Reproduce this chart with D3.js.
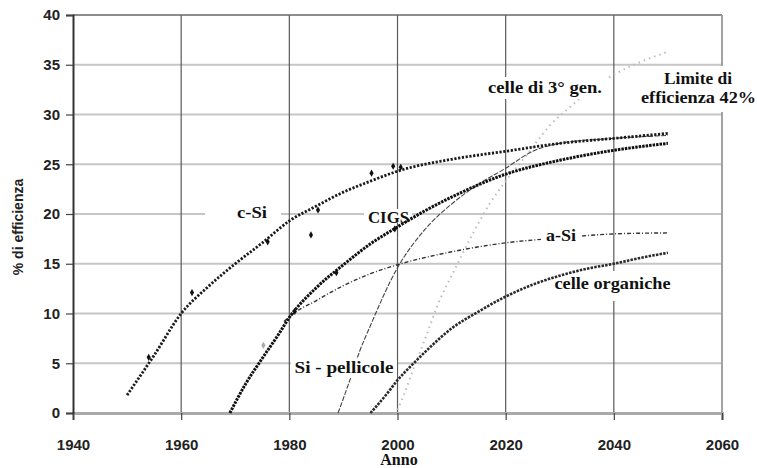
<!DOCTYPE html>
<html>
<head>
<meta charset="utf-8">
<script src="https://cdn.jsdelivr.net/npm/d3@7"></script>
<style>
  body { margin: 0; background: #fff; }
  svg { display: block; }
</style>
</head>
<body>
<svg id="chart" width="757" height="468"></svg>
<script>
// Axis ticks
const xTicks = [1940, 1960, 1980, 2000, 2020, 2040, 2060];
const yTicks = [0, 5, 10, 15, 20, 25, 30, 35, 40];

// c-Si trend
const cSiYears  = [1950, 1955, 1960, 1965, 1970, 1975, 1980, 1985, 1990, 1995, 2000, 2010, 2020, 2030, 2040, 2050];
const cSiValues = [1.8, 5.8, 10.0, 12.7, 15.0, 17.1, 19.3, 20.8, 22.2, 23.3, 24.3, 25.5, 26.3, 27.1, 27.6, 28.1];
// c-Si measured records
const cSiPointYears  = [1954, 1962, 1976, 1984, 1985.3, 1995.2, 1999.2, 2000.6];
const cSiPointValues = [5.6, 12.1, 17.2, 17.9, 20.4, 24.1, 24.8, 24.7];

// CIGS trend
const cigsYears  = [1969, 1972, 1975, 1978, 1980, 1985, 1990, 1995, 2000, 2005, 2010, 2020, 2030, 2040, 2050];
const cigsValues = [0, 3.0, 5.5, 7.9, 9.6, 12.6, 14.9, 17.0, 18.7, 20.3, 21.7, 24.0, 25.4, 26.4, 27.1];
const cigsPointYears  = [1981, 1988.7, 1999.5];
const cigsPointValues = [10.2, 14.1, 18.5];

// a-Si trend
const aSiYears  = [1979, 1980, 1985, 1990, 1995, 2000, 2010, 2020, 2030, 2040, 2050];
const aSiValues = [9.2, 9.7, 11.3, 12.8, 14.0, 14.9, 16.2, 17.1, 17.6, 18.0, 18.1];
const aSiPointYears  = [1975.2];
const aSiPointValues = [6.8];

// thin-film silicon trend
const siFilmYears  = [1989, 1991, 1993, 1995, 2000, 2005, 2010, 2015, 2020, 2025, 2030, 2040, 2050];
const siFilmValues = [0, 3.0, 6.2, 8.8, 14.6, 18.4, 21.0, 23.0, 24.6, 26.3, 27.1, 27.6, 27.9];

// organic cells trend
const organicYears  = [1995, 1998, 2000, 2003, 2006, 2010, 2015, 2020, 2025, 2030, 2035, 2040, 2045, 2050];
const organicValues = [0, 1.9, 3.3, 5.0, 6.6, 8.5, 10.2, 11.7, 12.9, 13.8, 14.5, 15.0, 15.6, 16.1];

// third-generation cells trend
const thirdGenYears  = [2000, 2001, 2003, 2005, 2008, 2010, 2014, 2017, 2020, 2024, 2028, 2032, 2036, 2040, 2045, 2050];
const thirdGenValues = [0.3, 1.6, 4.5, 7.3, 11.6, 13.8, 18.1, 21.0, 23.3, 26.0, 28.8, 30.8, 32.6, 34.0, 35.3, 36.3];

// Label texts
const labelTexts = ["c-Si", "CIGS", "a-Si", "celle organiche", "Si - pellicole", "celle di 3° gen.", "Limite di", "efficienza 42%"];
const xTitle = "Anno";
const yTitle = "% di efficienza";

const serifFont = "'Liberation Serif', Tinos, 'Times New Roman', serif";
const sansFont = "'Liberation Sans', Arimo, Arial, sans-serif";

const svg = d3.select("#chart");
const x = d3.scaleLinear().domain([1940, 2060]).range([73, 722]);
const y = d3.scaleLinear().domain([0, 40]).range([413, 15]);

const zip = (xs, ys) => xs.map((v, i) => [v, ys[i]]);

// horizontal grid
svg.append("g").selectAll("line").data(yTicks.filter(d => d > 0 && d < 40)).join("line")
  .attr("x1", x(1940)).attr("x2", x(2060))
  .attr("y1", d => y(d)).attr("y2", d => y(d))
  .attr("stroke", "#c6c6c6").attr("stroke-width", 2);

// vertical grid
svg.append("g").selectAll("line").data(xTicks.slice(1, -1)).join("line")
  .attr("x1", d => x(d)).attr("x2", d => x(d))
  .attr("y1", y(40)).attr("y2", y(0))
  .attr("stroke", "#5a5a5a").attr("stroke-width", 1.2);

// frame: top and right edges
svg.append("line").attr("x1", x(1940)).attr("x2", x(2060)).attr("y1", y(40)).attr("y2", y(40))
  .attr("stroke", "#666").attr("stroke-width", 1.5);
svg.append("line").attr("x1", x(2060)).attr("x2", x(2060)).attr("y1", y(40)).attr("y2", y(0))
  .attr("stroke", "#999").attr("stroke-width", 1.8);

// label backgrounds that only hide grid lines
const bgUnder = [
  [205, 204, 76, 17],
  [364, 209, 48, 14],
  [550, 271, 125, 30],
  [636, 66, 121, 46]
];
svg.append("g").selectAll("rect").data(bgUnder).join("rect")
  .attr("x", d => d[0]).attr("y", d => d[1]).attr("width", d => d[2]).attr("height", d => d[3])
  .attr("fill", "#fff");

// axes
const xAxis = d3.axisBottom(x).tickValues(xTicks).tickSize(7).tickFormat(d3.format("d"));
const gx = svg.append("g").attr("transform", `translate(0,${y(0)})`).call(xAxis);
gx.select(".domain").attr("stroke", "#aaa").attr("stroke-width", 3);
gx.selectAll(".tick line").attr("stroke", "#444").attr("stroke-width", 1.2);
gx.selectAll(".tick text").attr("y", 26)
  .attr("font-family", sansFont).attr("font-weight", "bold")
  .attr("font-size", 15).attr("fill", "#222");

const yAxis = d3.axisLeft(y).tickValues(yTicks).tickSize(7);
const gy = svg.append("g").attr("transform", `translate(${x(1940)},0)`).call(yAxis);
gy.select(".domain").attr("stroke", "#333").attr("stroke-width", 2);
gy.selectAll(".tick line").attr("stroke", "#444").attr("stroke-width", 1.2);
gy.selectAll(".tick text").attr("x", -13)
  .attr("font-family", sansFont).attr("font-weight", "bold")
  .attr("font-size", 15).attr("fill", "#222");

// trend lines
const line = d3.line().x(d => x(d[0])).y(d => y(d[1])).curve(d3.curveMonotoneX);
const series = [
  { data: zip(thirdGenYears, thirdGenValues), stroke: "#bdbdbd", width: 2,   dash: "1.5,4" },
  { data: zip(siFilmYears, siFilmValues),     stroke: "#444",    width: 1.1, dash: "5,1.5" },
  { data: zip(aSiYears, aSiValues),           stroke: "#333",    width: 1.4, dash: "4,2,1,2" },
  { data: zip(organicYears, organicValues),   stroke: "#2a2a2a", width: 2.6, dash: "2.5,1.2" },
  { data: zip(cigsYears, cigsValues),         stroke: "#111",    width: 3,   dash: "2.5,1" },
  { data: zip(cSiYears, cSiValues),           stroke: "#1a1a1a", width: 2.8, dash: "2.2,1.6" }
];
svg.append("g").selectAll("path").data(series).join("path")
  .attr("d", d => line(d.data))
  .attr("fill", "none")
  .attr("stroke", d => d.stroke)
  .attr("stroke-width", d => d.width)
  .attr("stroke-dasharray", d => d.dash);

// measured points
const diamond = d3.symbol().type(d3.symbolDiamond).size(15);
const pts = [
  ...zip(cSiPointYears, cSiPointValues).map(p => ({ p, c: "#111" })),
  ...zip(cigsPointYears, cigsPointValues).map(p => ({ p, c: "#111" })),
  ...zip(aSiPointYears, aSiPointValues).map(p => ({ p, c: "#aaa" }))
];
svg.append("g").selectAll("path").data(pts).join("path")
  .attr("d", diamond)
  .attr("transform", d => `translate(${x(d.p[0])},${y(d.p[1])})`)
  .attr("fill", d => d.c);

// label backgrounds that sit over the curves
const bgOver = [
  [541, 227, 40, 17],
  [291, 359, 106, 19],
  [485, 77, 121, 22]
];
svg.append("g").selectAll("rect").data(bgOver).join("rect")
  .attr("x", d => d[0]).attr("y", d => d[1]).attr("width", d => d[2]).attr("height", d => d[3])
  .attr("fill", "#fff");

// curve labels: [text index, centre x, baseline y, width]
const labelPos = [
  [0, 252, 218, 30],
  [1, 388.5, 223, 41],
  [2, 561, 241, 30],
  [3, 612.5, 289, 116],
  [4, 344, 373, 99],
  [5, 545, 93, 114],
  [6, 698, 84, 68],
  [7, 698.5, 103, 115]
];
svg.append("g").selectAll("text").data(labelPos).join("text")
  .attr("x", d => d[1]).attr("y", d => d[2])
  .attr("text-anchor", "middle")
  .attr("textLength", d => d[3]).attr("lengthAdjust", "spacingAndGlyphs")
  .attr("font-family", serifFont)
  .attr("font-size", 16).attr("font-weight", "bold").attr("fill", "#111")
  .text(d => labelTexts[d[0]]);

// axis titles
svg.append("text").attr("x", 399).attr("y", 465).attr("text-anchor", "middle")
  .attr("font-family", serifFont)
  .attr("font-size", 16).attr("font-weight", "bold").attr("fill", "#111")
  .text(xTitle);
svg.append("text").attr("transform", "translate(23,227) rotate(-90)").attr("text-anchor", "middle")
  .attr("font-family", sansFont)
  .attr("font-size", 14).attr("font-weight", "bold").attr("fill", "#222")
  .text(yTitle);
</script>
</body>
</html>
